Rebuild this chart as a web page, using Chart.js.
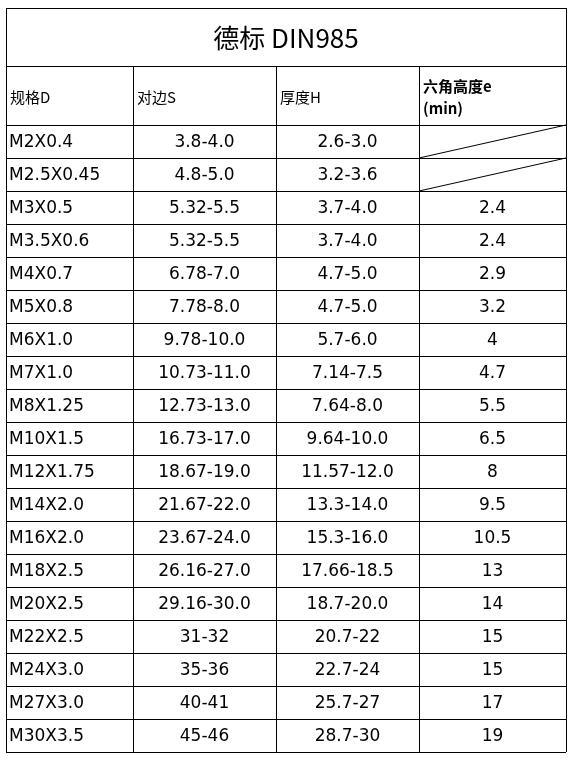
<!DOCTYPE html>
<html>
  <head>
    <meta charset="utf-8">
    <title>德标 DIN985</title>
    <script src="https://cdn.jsdelivr.net/npm/chart.js"></script>
    <style>
      body { margin: 0; background: #fff; }
    </style>
  </head>
  <body>
    <canvas id="myChart" width="573" height="760"></canvas>
    <script>
      var title = "德标 DIN985";
      var headers = ["规格D", "对边S", "厚度H", "六角高度e\n(min)"];
      var sizes = ["M2X0.4", "M2.5X0.45", "M3X0.5", "M3.5X0.6", "M4X0.7", "M5X0.8", "M6X1.0", "M7X1.0", "M8X1.25", "M10X1.5",
        "M12X1.75", "M14X2.0", "M16X2.0", "M18X2.5", "M20X2.5", "M22X2.5", "M24X3.0", "M27X3.0", "M30X3.5"];
      var widthS = ["3.8-4.0", "4.8-5.0", "5.32-5.5", "5.32-5.5", "6.78-7.0", "7.78-8.0", "9.78-10.0", "10.73-11.0", "12.73-13.0", "16.73-17.0",
        "18.67-19.0", "21.67-22.0", "23.67-24.0", "26.16-27.0", "29.16-30.0", "31-32", "35-36", "40-41", "45-46"];
      var heightH = ["2.6-3.0", "3.2-3.6", "3.7-4.0", "3.7-4.0", "4.7-5.0", "4.7-5.0", "5.7-6.0", "7.14-7.5", "7.64-8.0", "9.64-10.0",
        "11.57-12.0", "13.3-14.0", "15.3-16.0", "17.66-18.5", "18.7-20.0", "20.7-22", "22.7-24", "25.7-27", "28.7-30"];
      var hexE = [null, null, "2.4", "2.4", "2.9", "3.2", "4", "4.7", "5.5", "6.5",
        "8", "9.5", "10.5", "13", "14", "15", "15", "17", "19"];

      // layout in scale units (scales span the whole canvas)
      var colEdges = [6, 133, 276, 419, 566];
      var titleTop = 8, headTop = 66, bodyTop = 125, rowH = 33;

      var tablePlugin = {
        id: "table",
        afterDraw: function (chart) {
          var c = chart.ctx, xs = chart.scales.x, ys = chart.scales.y;
          var X = function (v) { return xs.getPixelForValue(v); };
          var Y = function (v) { return ys.getPixelForValue(v); };
          var n = sizes.length;
          var bottom = bodyTop + n * rowH;
          c.save();
          c.strokeStyle = "#000";
          c.lineWidth = 1;
          c.beginPath();
          // horizontal lines
          var hl = [titleTop, headTop, bodyTop];
          for (var i = 1; i <= n; i++) hl.push(bodyTop + i * rowH);
          hl.forEach(function (y) {
            c.moveTo(X(colEdges[0]), Math.round(Y(y)) + 0.5);
            c.lineTo(X(colEdges[4]), Math.round(Y(y)) + 0.5);
          });
          // vertical lines
          colEdges.forEach(function (x, k) {
            var top = (k === 0 || k === 4) ? titleTop : headTop;
            c.moveTo(Math.round(X(x)) + 0.5, Y(top));
            c.lineTo(Math.round(X(x)) + 0.5, Y(bottom));
          });
          // diagonals for empty cells
          hexE.forEach(function (v, r) {
            if (v === null) {
              c.moveTo(X(colEdges[3]), Y(bodyTop + (r + 1) * rowH));
              c.lineTo(X(colEdges[4]), Y(bodyTop + r * rowH));
            }
          });
          c.stroke();

          c.fillStyle = "#000";
          c.textBaseline = "middle";
          // title
          c.font = "26px 'Noto Sans CJK SC', 'DejaVu Sans'";
          c.textAlign = "center";
          c.fillText(title, X((colEdges[0] + colEdges[4]) / 2), Y((titleTop + headTop) / 2 + 1));
          // headers
          c.textAlign = "left";
          c.font = "15px 'Noto Sans CJK SC', 'DejaVu Sans'";
          for (var k = 0; k < 3; k++) {
            c.fillText(headers[k], X(colEdges[k]) + 4, Y((headTop + bodyTop) / 2 + 2));
          }
          c.font = "bold 15px 'Noto Sans CJK SC', 'DejaVu Sans Mono'";
          var hl4 = headers[3].split("\n");
          c.fillText(hl4[0], X(colEdges[3]) + 4, Y(headTop + 20));
          c.fillText(hl4[1], X(colEdges[3]) + 4, Y(headTop + 42));
          // body
          c.font = "17px 'DejaVu Sans'";
          var cols = [sizes, widthS, heightH, hexE];
          for (var r = 0; r < n; r++) {
            var yc = Y(bodyTop + r * rowH + rowH / 2 + 1);
            cols.forEach(function (arr, k) {
              var v = arr[r];
              if (v === null) return;
              if (k === 0) {
                c.textAlign = "left";
                c.fillText(v, X(colEdges[0]) + 3, yc);
              } else {
                c.textAlign = "center";
                c.fillText(v, X((colEdges[k] + colEdges[k + 1]) / 2), yc);
              }
            });
          }
          c.restore();
        }
      };

      var ctx = document.getElementById("myChart").getContext("2d");
      var chart = new Chart(ctx, {
        type: "scatter",
        data: { datasets: [{ data: [] }] },
        options: {
          responsive: false,
          animation: false,
          layout: { padding: 0 },
          plugins: { legend: { display: false }, tooltip: { enabled: false } },
          scales: {
            x: { type: "linear", min: 0, max: 573, display: false },
            y: { type: "linear", min: 0, max: 760, reverse: true, display: false }
          }
        },
        plugins: [tablePlugin]
      });
    </script>
  </body>
</html>
